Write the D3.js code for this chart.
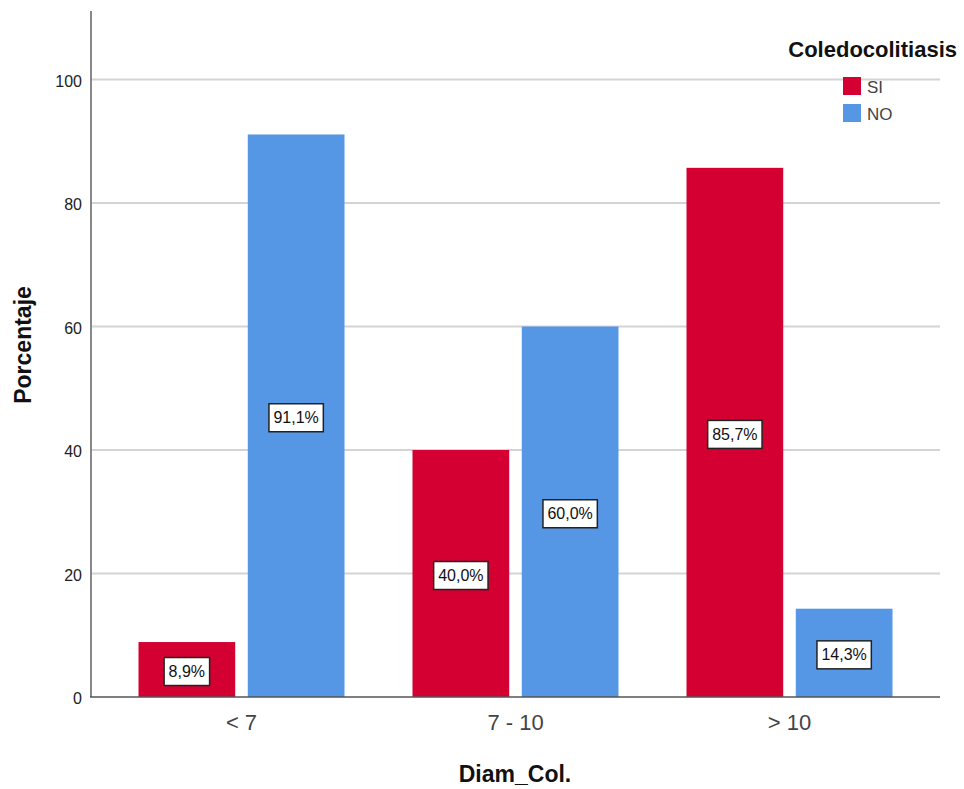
<!DOCTYPE html>
<html><head><meta charset="utf-8">
<script src="https://cdn.jsdelivr.net/npm/d3@7"></script>
<style>body{margin:0;background:#fff}</style>
</head><body>
<svg id="c" width="964" height="789"></svg>
<script>
const categories = ["< 7", "7 - 10", "> 10"];
const series = ["SI", "NO"];
const valuesSI = [8.9, 40.0, 85.7];
const valuesNO = [91.1, 60.0, 14.3];
const yTicks = [0, 20, 40, 60, 80, 100];
const colors = ["#d50032", "#5596e5"];

const svg = d3.select("#c");
const font = "Arial, 'Liberation Sans', sans-serif";
const x0 = 91, x1 = 940, yTop = 11, yBot = 697;

const y = d3.scaleLinear().domain([0, 111.1]).range([yBot, yTop]);
const x = d3.scaleBand().domain(categories).range([104.5, 926.5]).paddingInner(0).paddingOuter(0);
const xs = d3.scaleBand().domain(series).range([34, 240]).paddingInner(0.115);

// gridlines
svg.append("g").selectAll("line").data(yTicks.filter(d => d > 0)).join("line")
  .attr("x1", x0).attr("x2", x1).attr("y1", d => y(d)).attr("y2", d => y(d))
  .attr("stroke", "#d4d4d4").attr("stroke-width", 2);

// bars
const data = [];
categories.forEach((c, i) => {
  data.push({cat: c, s: "SI", v: valuesSI[i], col: colors[0]});
  data.push({cat: c, s: "NO", v: valuesNO[i], col: colors[1]});
});
svg.append("g").selectAll("rect").data(data).join("rect")
  .attr("x", d => x(d.cat) + xs(d.s))
  .attr("width", xs.bandwidth())
  .attr("y", d => y(d.v))
  .attr("height", d => yBot - y(d.v))
  .attr("fill", d => d.col);

// axes
const yAxis = d3.axisLeft(y).tickValues(yTicks).tickSize(0).tickPadding(9);
const gy = svg.append("g").attr("transform", `translate(${x0},0)`).call(yAxis);
gy.select(".domain").remove();
gy.selectAll("text").attr("font-family", font).attr("font-size", 16).attr("fill", "#222").attr("dy", "0.42em");
svg.append("line").attr("x1", x0).attr("x2", x0).attr("y1", yTop).attr("y2", yBot)
  .attr("stroke", "#888").attr("stroke-width", 2);

const xAxis = d3.axisBottom(x).tickSize(0).tickPadding(17);
const gx = svg.append("g").attr("transform", `translate(0,${yBot})`).call(xAxis);
gx.select(".domain").remove();
gx.selectAll("text").attr("font-family", font).attr("font-size", 22).attr("fill", "#444");
svg.append("line").attr("x1", x0 - 1).attr("x2", x1).attr("y1", yBot).attr("y2", yBot)
  .attr("stroke", "#555").attr("stroke-width", 1.5);

// labels
const lab = svg.append("g").selectAll("g").data(data).join("g")
  .attr("transform", d => `translate(${x(d.cat) + xs(d.s) + xs.bandwidth() / 2},${(y(d.v) + yBot) / 2 + 2})`);
lab.each(function(d) {
  const g = d3.select(this);
  const t = g.append("text").text(d.v.toFixed(1).replace(".", ",") + "%")
    .attr("font-family", font).attr("font-size", 16).attr("text-anchor", "middle")
    .attr("dy", "0.35em").attr("fill", "#111");
  const w = t.node().getComputedTextLength();
  g.insert("rect", "text").attr("x", -w / 2 - 4.5).attr("y", -14).attr("width", w + 9).attr("height", 28)
    .attr("fill", "#fff").attr("stroke", "#222").attr("stroke-width", 1.5);
});

// axis titles
svg.append("text").text("Diam_Col.").attr("x", 515).attr("y", 782)
  .attr("text-anchor", "middle").attr("font-family", font).attr("font-weight", "bold")
  .attr("font-size", 23).attr("fill", "#111");
svg.append("text").text("Porcentaje").attr("transform", "translate(31,345) rotate(-90)")
  .attr("text-anchor", "middle").attr("font-family", font).attr("font-weight", "bold")
  .attr("font-size", 23).attr("fill", "#111");

// legend
svg.append("text").text("Coledocolitiasis").attr("x", 957).attr("y", 57)
  .attr("text-anchor", "end").attr("font-family", font).attr("font-weight", "bold")
  .attr("font-size", 22).attr("fill", "#111");
const leg = svg.append("g").selectAll("g").data(series).join("g")
  .attr("transform", (d, i) => `translate(843,${77 + i * 27})`);
leg.append("rect").attr("width", 18).attr("height", 18).attr("fill", (d, i) => colors[i]);
leg.append("text").text(d => d).attr("x", 24).attr("y", 10).attr("dy", "0.36em")
  .attr("font-family", font).attr("font-size", 17).attr("fill", "#444");
</script>
</body></html>
